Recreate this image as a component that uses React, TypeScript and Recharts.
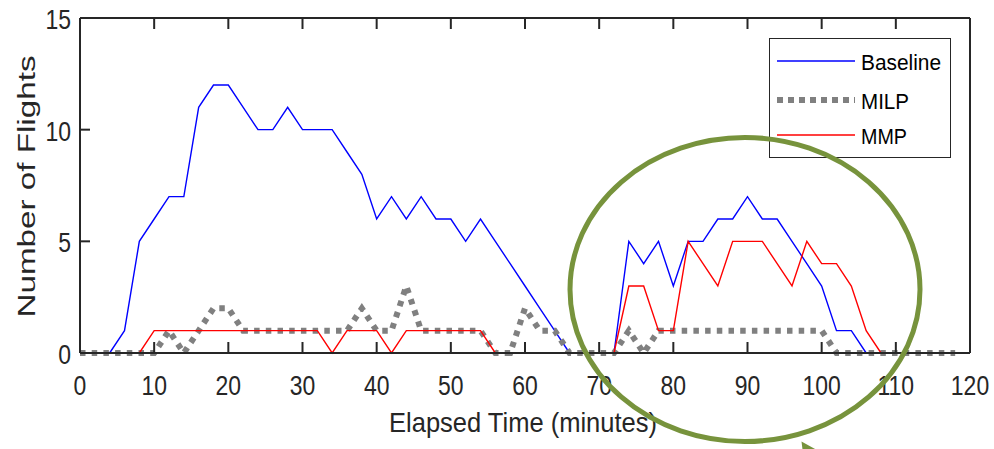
import React from 'react';
import { LineChart, Line, XAxis, YAxis } from 'recharts';

// Elapsed time samples (minutes) and flight counts for each strategy
const minutes = [
  0, 2, 4, 6, 8, 10, 12, 14, 16, 18, 20, 22, 24, 26, 28, 30, 32, 34, 36, 38,
  40, 42, 44, 46, 48, 50, 52, 54, 56, 58, 60, 62, 64, 66, 68, 70, 72, 74, 76, 78,
  80, 82, 84, 86, 88, 90, 92, 94, 96, 98, 100, 102, 104, 106, 108, 110, 112, 114, 116, 118,
];
const baselineFlights = [
  0, 0, 0, 1, 5, 6, 7, 7, 11, 12, 12, 11, 10, 10, 11, 10, 10, 10, 9, 8,
  6, 7, 6, 7, 6, 6, 5, 6, 5, 4, 3, 2, 1, 0, 0, 0, 0, 5, 4, 5,
  3, 5, 5, 6, 6, 7, 6, 6, 5, 4, 3, 1, 1, 0, 0, 0, 0, 0, 0, 0,
];
const milpFlights = [
  0, 0, 0, 0, 0, 0, 1, 0, 1, 2, 2, 1, 1, 1, 1, 1, 1, 1, 1, 2,
  1, 1, 3, 1, 1, 1, 1, 1, 0, 0, 2, 1, 1, 0, 0, 0, 0, 1, 0, 1,
  1, 1, 1, 1, 1, 1, 1, 1, 1, 1, 1, 0, 0, 0, 0, 0, 0, 0, 0, 0,
];
const mmpFlights = [
  0, 0, 0, 0, 0, 1, 1, 1, 1, 1, 1, 1, 1, 1, 1, 1, 1, 0, 1, 1,
  1, 0, 1, 1, 1, 1, 1, 1, 0, 0, 0, 0, 0, 0, 0, 0, 0, 3, 3, 1,
  1, 5, 4, 3, 5, 5, 5, 4, 3, 5, 4, 4, 3, 1, 0, 0, 0, 0, 0, 0,
];

const xTicks = [0, 10, 20, 30, 40, 50, 60, 70, 80, 90, 100, 110, 120];
const yTicks = [0, 5, 10, 15];
const seriesNames = ['Baseline', 'MILP', 'MMP'];

const data = minutes.map((m, i) => ({
  minute: m,
  baseline: baselineFlights[i],
  milp: milpFlights[i],
  mmp: mmpFlights[i],
}));

const INK = '#262626';
const FONT = '"Liberation Sans", Arial, Helvetica, sans-serif';
const BLUE = '#0000FF';
const RED = '#FF0000';
const GREY = '#808080';
const OLIVE = '#77933C';

const BottomTick = (props: any) => {
  const { x, y, payload } = props;
  return (
    <g>
      <line x1={x} y1={y} x2={x} y2={y - 11} stroke={INK} strokeWidth={2} />
      <text
        transform={`translate(${x},${y + 42}) scale(0.82,1)`}
        textAnchor="middle"
        fontSize={28}
        fontFamily={FONT}
        fill={INK}
      >
        {payload.value}
      </text>
    </g>
  );
};

const LeftTick = (props: any) => {
  const { x, y, payload } = props;
  return (
    <g>
      <line x1={x} y1={y} x2={x + 10} y2={y} stroke={INK} strokeWidth={2} />
      <text
        transform={`translate(${x - 9},${y + 11}) scale(0.82,1)`}
        textAnchor="end"
        fontSize={28}
        fontFamily={FONT}
        fill={INK}
      >
        {payload.value}
      </text>
    </g>
  );
};

const TopTick = (props: any) => {
  const { x, y } = props;
  return <line x1={x} y1={y} x2={x} y2={y + 11} stroke={INK} strokeWidth={2} />;
};

const RightTick = (props: any) => {
  const { x, y } = props;
  return <line x1={x} y1={y} x2={x - 10} y2={y} stroke={INK} strokeWidth={2} />;
};

const LegendBox = () => {
  const rows = [
    { name: seriesNames[0], y: 61, stroke: BLUE, width: 1.5, dash: undefined as string | undefined, len: 80 },
    { name: seriesNames[1], y: 100, stroke: GREY, width: 6, dash: '6 5', len: 48 },
    { name: seriesNames[2], y: 135, stroke: RED, width: 1.5, dash: undefined as string | undefined, len: 46 },
  ];
  return (
    <g>
      <rect x={769.5} y={38.5} width={181} height={119} fill="#FFFFFF" stroke={INK} strokeWidth={1} />
      {rows.map((r) => (
        <g key={r.name}>
          <line x1={777} y1={r.y} x2={855} y2={r.y} stroke={r.stroke} strokeWidth={r.width} strokeDasharray={r.dash} />
          <text
            x={861}
            y={r.y + 9}
            fontSize={22}
            fontFamily={FONT}
            fill="#000000"
            textLength={r.len}
            lengthAdjust="spacingAndGlyphs"
          >
            {r.name}
          </text>
        </g>
      ))}
    </g>
  );
};

export default function App() {
  return (
    <div style={{ position: 'absolute', left: 0, top: 0, width: 994, height: 449, background: '#FFFFFF' }}>
      <LineChart
        width={994}
        height={449}
        data={data}
        margin={{ top: 17, right: 23, left: 0, bottom: 0 }}
      >
        <XAxis
          xAxisId="bottom"
          dataKey="minute"
          type="number"
          domain={[0, 120]}
          ticks={xTicks}
          interval={0}
          height={96}
          tickSize={0}
          tickMargin={0}
          tickLine={false}
          axisLine={{ stroke: INK, strokeWidth: 2 }}
          tick={BottomTick}
        />
        <XAxis
          xAxisId="top"
          orientation="top"
          dataKey="minute"
          type="number"
          domain={[0, 120]}
          ticks={xTicks}
          interval={0}
          height={1}
          tickSize={0}
          tickMargin={0}
          tickLine={false}
          axisLine={{ stroke: INK, strokeWidth: 2 }}
          tick={TopTick}
        />
        <YAxis
          yAxisId="left"
          type="number"
          domain={[0, 15]}
          ticks={yTicks}
          interval={0}
          width={80}
          tickSize={0}
          tickMargin={0}
          tickLine={false}
          axisLine={{ stroke: INK, strokeWidth: 2 }}
          tick={LeftTick}
        />
        <YAxis
          yAxisId="right"
          orientation="right"
          type="number"
          domain={[0, 15]}
          ticks={yTicks}
          interval={0}
          width={1}
          tickSize={0}
          tickMargin={0}
          tickLine={false}
          axisLine={{ stroke: INK, strokeWidth: 2 }}
          tick={RightTick}
        />
        <Line
          xAxisId="bottom"
          yAxisId="left"
          type="linear"
          dataKey="baseline"
          name={seriesNames[0]}
          stroke={BLUE}
          strokeWidth={1.4}
          dot={false}
          isAnimationActive={false}
        />
        <Line
          xAxisId="bottom"
          yAxisId="left"
          type="linear"
          dataKey="milp"
          name={seriesNames[1]}
          stroke={GREY}
          strokeWidth={6}
          strokeDasharray="5.5 6.2"
          dot={false}
          isAnimationActive={false}
        />
        <Line
          xAxisId="bottom"
          yAxisId="left"
          type="linear"
          dataKey="mmp"
          name={seriesNames[2]}
          stroke={RED}
          strokeWidth={1.4}
          dot={false}
          isAnimationActive={false}
        />
      </LineChart>
      <svg
        width={994}
        height={449}
        style={{ position: 'absolute', left: 0, top: 0, pointerEvents: 'none' }}
      >
        <text
          x={523}
          y={432}
          textAnchor="middle"
          fontSize={28}
          fontFamily={FONT}
          fill={INK}
          textLength={268}
          lengthAdjust="spacingAndGlyphs"
        >
          Elapsed Time (minutes)
        </text>
        <text
          transform="translate(35,186.5) scale(0.72,1) rotate(-90)"
          textAnchor="middle"
          fontSize={32}
          fontFamily={FONT}
          fill={INK}
          textLength={262}
          lengthAdjust="spacingAndGlyphs"
        >
          Number of Flights
        </text>
        <LegendBox />
        <ellipse cx={745} cy={289.5} rx={175} ry={152} fill="none" stroke={OLIVE} strokeWidth={5} />
        <polygon points="801.5,441.5 816,449.5 802.5,449.5" fill={OLIVE} />
      </svg>
    </div>
  );
}
